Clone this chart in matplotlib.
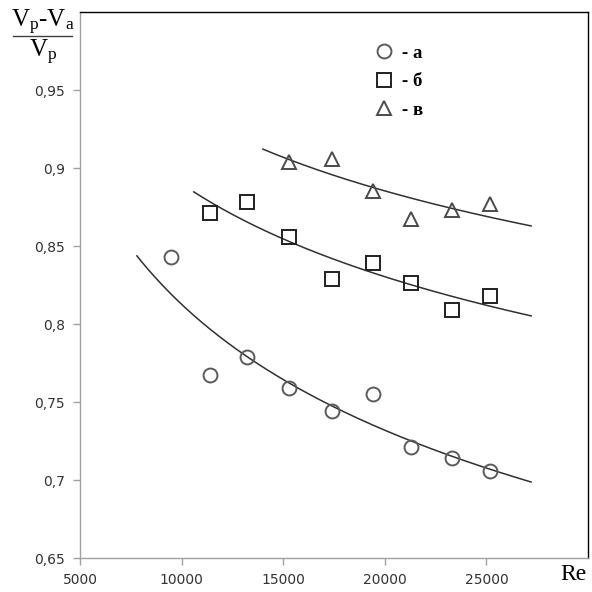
import numpy as np
import matplotlib
matplotlib.use("Agg")
import matplotlib.pyplot as plt
from matplotlib.lines import Line2D

# ---- data ----
re_a = [9500, 11400, 13200, 15300, 17400, 19400, 21300, 23300, 25200]
val_a = [0.843, 0.767, 0.779, 0.759, 0.744, 0.755, 0.721, 0.714, 0.706]

re_b = [11400, 13200, 15300, 17400, 19400, 21300, 23300, 25200]
val_b = [0.871, 0.878, 0.856, 0.829, 0.839, 0.826, 0.809, 0.818]

re_c = [15300, 17400, 19400, 21300, 23300, 25200]
val_c = [0.904, 0.906, 0.885, 0.867, 0.873, 0.877]

# trendline ranges
fit_a = (7800, 27200)
fit_b = (10600, 27200)
fit_c = (14000, 27200)

xticks = [5000, 10000, 15000, 20000, 25000]
yticks = [0.65, 0.70, 0.75, 0.80, 0.85, 0.90, 0.95]
ytick_labels = ["0,65", "0,7", "0,75", "0,8", "0,85", "0,9", "0,95"]
legend_labels = ["- а", "- б", "- в"]

plt.rcParams['mathtext.fontset'] = 'custom'
plt.rcParams['mathtext.rm'] = 'Liberation Serif'

fig = plt.figure(figsize=(5.92, 5.92), dpi=100)
ax = fig.add_axes([80 / 592, 1 - 558 / 592, (588 - 80) / 592, (558 - 12) / 592])

def power_fit(x, y, rng):
    b, lna = np.polyfit(np.log(x), np.log(y), 1)
    xs = np.linspace(rng[0], rng[1], 200)
    return xs, np.exp(lna) * xs ** b

for x, y, rng in [(re_a, val_a, fit_a), (re_b, val_b, fit_b), (re_c, val_c, fit_c)]:
    xs, ys = power_fit(x, y, rng)
    ax.plot(xs, ys, color='#303030', lw=1.1, zorder=2)

mk = dict(linestyle='none', markerfacecolor='none', markeredgewidth=1.4, zorder=3)
ax.plot(re_a, val_a, marker='o', markersize=10, markeredgecolor='#5a5a5a', **mk)
ax.plot(re_b, val_b, marker='s', markersize=9.5, markeredgecolor='#202020', **mk)
ax.plot(re_c, val_c, marker='^', markersize=10, markeredgecolor='#4a4a4a', **mk)

ax.set_xlim(5000, 30000)
ax.set_ylim(0.65, 1.0)
ax.set_xticks(xticks)
ax.set_xticklabels([str(t) for t in xticks])
ax.set_yticks(yticks)
ax.set_yticklabels(ytick_labels)

for s in ['left', 'bottom']:
    ax.spines[s].set_color('#a0a0a0')
    ax.spines[s].set_linewidth(1.0)
for s in ['top', 'right']:
    ax.spines[s].set_color('black')
    ax.spines[s].set_linewidth(1.0)

ax.tick_params(direction='out', length=5, width=1, color='#a0a0a0',
               labelsize=10, labelcolor='#333333', pad=6)
for lab in ax.get_xticklabels() + ax.get_yticklabels():
    lab.set_family('DejaVu Sans')

handles = [
    Line2D([], [], marker='o', markersize=10, markeredgecolor='#5a5a5a', **mk),
    Line2D([], [], marker='s', markersize=9.5, markeredgecolor='#202020', **mk),
    Line2D([], [], marker='^', markersize=10, markeredgecolor='#4a4a4a', **mk),
]
leg = ax.legend(handles, legend_labels, loc='upper left',
                bbox_to_anchor=(365 / 592, 1 - 35 / 592), bbox_transform=fig.transFigure,
                frameon=False, handlelength=1.0, handletextpad=0.5, labelspacing=0.62,
                borderpad=0, prop={'family': 'Liberation Serif', 'size': 13.5, 'weight': 'bold'})

# y-axis label as a fraction in the top-left corner
fig.text(43 / 592, 1 - 22 / 592, r'$\mathrm{V_p\text{-}V_a}$', ha='center', va='center',
         fontsize=18, color='black')
fig.add_artist(Line2D([13 / 592, 72 / 592], [1 - 36 / 592, 1 - 36 / 592],
                      color='#404040', lw=1.0, transform=fig.transFigure))
fig.text(43 / 592, 1 - 52 / 592, r'$\mathrm{V_p}$', ha='center', va='center',
         fontsize=18, color='black')

fig.text(573 / 592, 1 - 575 / 592, 'Re', ha='center', va='center',
         fontsize=17, family='Liberation Serif', color='black')

fig.savefig('out.png', dpi=100)
